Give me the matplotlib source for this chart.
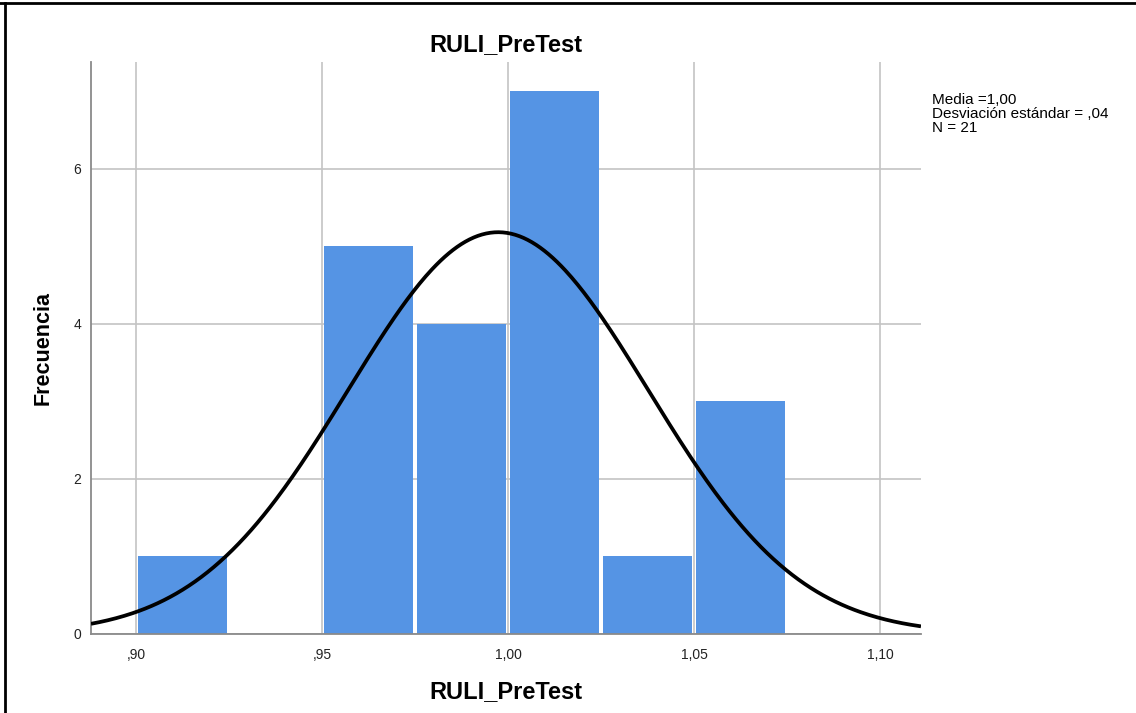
import numpy as np
import matplotlib.pyplot as plt
from matplotlib.lines import Line2D

plt.rcParams['font.family'] = ['Liberation Sans', 'DejaVu Sans']

# histogram data (bins of width 0.025)
bin_edges = [0.900, 0.925, 0.950, 0.975, 1.000, 1.025, 1.050, 1.075]
counts = [1, 0, 5, 4, 7, 1, 3]

# normal curve parameters
media = 0.9973
desv = 0.0404
n = 21

xticks = [0.90, 0.95, 1.00, 1.05, 1.10]
xtick_labels = [",90", ",95", "1,00", "1,05", "1,10"]
yticks = [0, 2, 4, 6]

#canvas
fig = plt.figure(figsize=(11.36, 7.13), dpi=100, facecolor="white")
ax = fig.add_axes([0.0801, 0.1108, 0.7306, 0.8022])

ax.set_xlim(0.8878, 1.1110)
ax.set_ylim(0, 7.38)

ax.set_axisbelow(True)
ax.grid(True, color="#c4c4c4", linewidth=1.2)

centers = [(bin_edges[i] + bin_edges[i+1]) / 2 for i in range(len(counts))]
ax.hist(centers, bins=bin_edges, weights=counts, rwidth=0.955,
        color="#5594e4", zorder=2)

# normal curve
binw = bin_edges[1] - bin_edges[0]
xs = np.linspace(0.8878, 1.1110, 400)
ys = n * binw / (desv * np.sqrt(2 * np.pi)) * np.exp(-0.5 * ((xs - media) / desv) ** 2)
ax.plot(xs, ys, color="black", linewidth=2.7, zorder=3, solid_capstyle="butt")

ax.set_xticks(xticks)
ax.set_xticklabels(xtick_labels)
ax.set_yticks(yticks)
ax.tick_params(axis="both", length=0, labelsize=10, colors="#222222")
ax.tick_params(axis="x", pad=10)
ax.tick_params(axis="y", pad=7)

for s in ["top", "right"]:
    ax.spines[s].set_visible(False)
for s in ["left", "bottom"]:
    ax.spines[s].set_color("#8a8a8a")
    ax.spines[s].set_linewidth(1.3)

ax.set_title("RULI_PreTest", fontsize=17, fontweight="bold", pad=8)
ax.set_xlabel("RULI_PreTest", fontsize=17, fontweight="bold", labelpad=13)
ax.set_ylabel("Frecuencia", fontsize=15.5, fontweight="bold", labelpad=14)

fig.text(0.8204, 0.870, "Media =1,00\nDesviación estándar = ,04\nN = 21",
         fontsize=11, va="top", ha="left", linespacing=1.0)

# frame of the screenshot
fig.add_artist(Line2D([0, 1], [0.9958, 0.9958], transform=fig.transFigure, color="black", linewidth=2))
fig.add_artist(Line2D([0.0044, 0.0044], [0, 0.9958], transform=fig.transFigure, color="black", linewidth=2))

fig.savefig("out.png", dpi=100, facecolor="white")
